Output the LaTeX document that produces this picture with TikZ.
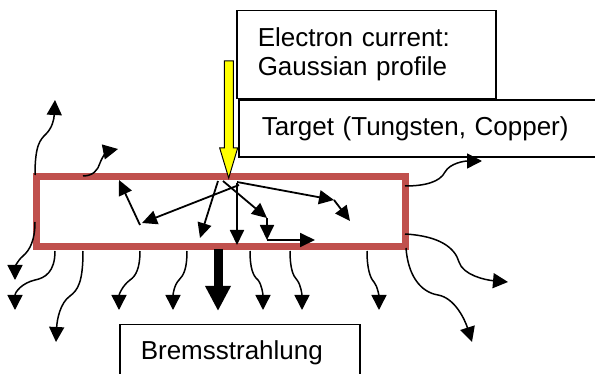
\documentclass[tikz,border=0pt]{standalone}
\usepackage{fontspec}
\setmainfont{Liberation Sans}
\usetikzlibrary{arrows.meta,positioning}
\definecolor{TargetRed}{HTML}{C0504D}
\definecolor{BeamYellow}{HTML}{FFFF00}
\tikzset{
  labelbox/.style={draw=black,fill=white,line width=1.5pt,align=left,inner ysep=0pt,font=\fontsize{26}{29}\selectfont},
  wall/.style={draw=TargetRed,line width=7pt},
  beam/.style={draw=black,fill=BeamYellow,line width=1pt,line join=miter},
  track/.style={-{Triangle[length=15pt,width=14pt]},line width=1.8pt},
  photon/.style={-{Triangle[length=15pt,width=15pt]},line width=1.5pt},
  brems/.style={-{Triangle[length=25pt,width=24pt]},line width=9pt}
}
\begin{document}
\begin{tikzpicture}[x=1pt,y=-1pt]
  \clip (0,0) rectangle (595,374);
  \fill[white] (0,0) rectangle (595,374);

  \node[labelbox,anchor=north west,minimum width=259pt,minimum height=88pt,inner xsep=21pt,text width=217pt] (current) at (236,10) {Electron current:\\Gaussian profile};
  \node[labelbox,below right=0pt and 2pt of current.south west,minimum width=382pt,minimum height=57pt,inner xsep=23pt,text width=336pt] (target) {Target (Tungsten, Copper)};
  \node[labelbox,anchor=north west,minimum width=240pt,minimum height=56pt,inner xsep=21pt,text width=198pt] (brems) at (119,324) {Bremsstrahlung};

  \draw[wall] (36,177) rectangle (405,247);

  % incoming beam
  \coordinate (hit) at (228.7,178);
  \draw[beam] (224.3,61) -- (233.3,61) -- (233.3,148) -- (237.7,148) -- (hit) -- (219.7,148) -- (224.3,148) -- cycle;

  % scattered electrons inside the slab
  \draw[track] (140,225) -- (119,180);
  \draw[track] (239,185) -- (142,223);
  \draw[track] (218,181) -- (200,238);
  \draw[track] (237,183) -- (237,245);
  \coordinate (kinkA) at (267,218);
  \coordinate (kinkB) at (267,240);
  \draw[track] (223,181) -- (kinkA);
  \draw[track] (kinkA) -- (kinkB);
  \draw[track] (kinkB) -- (315,240);
  \coordinate (kinkC) at (334,200);
  \draw[track] (237,182) -- (kinkC);
  \draw[track] (kinkC) -- (350,221);

  % photons leaving the target
  \draw[photon] (35,175) .. controls (35,145) and (40,140) .. (46,134) .. controls (52,128) and (54,120) .. (55,100);
  \draw[photon] (83,176) .. controls (93,176) and (98,170) .. (100,163) .. controls (103,155) and (108,151) .. (118,149);
  \draw[photon] (405,186) .. controls (425,186) and (440,182) .. (445,172) .. controls (450,163) and (465,161) .. (482,161);
  \draw[photon] (405,234) .. controls (440,236) and (455,248) .. (459,262) .. controls (463,275) and (485,280) .. (508,282);
  \draw[photon] (406,248) .. controls (408,275) and (420,292) .. (438,295) .. controls (455,298) and (465,320) .. (472,342);
  \draw[photon] (35,222) .. controls (35,240) and (30,250) .. (23,256) .. controls (17,261) and (15,268) .. (15,280);
  \draw[photon] (55,251) .. controls (55,272) and (45,278) .. (35,280) .. controls (22,283) and (15,292) .. (15,310);
  \draw[photon] (83,251) .. controls (83,282) and (78,290) .. (70,296) .. controls (60,303) and (57,320) .. (56,342);
  \draw[photon] (140,251) .. controls (140,268) and (136,276) .. (130,280) .. controls (122,286) and (119,295) .. (119,310);
  \draw[photon] (187,251) .. controls (187,268) and (184,275) .. (179,280) .. controls (174,285) and (173,295) .. (173,310);
  \draw[photon] (250,251) .. controls (250,268) and (253,276) .. (258,280) .. controls (262,285) and (263,295) .. (263,310);
  \draw[photon] (290,251) .. controls (290,268) and (293,276) .. (297,280) .. controls (301,285) and (302,295) .. (302,310);
  \draw[photon] (367,251) .. controls (367,268) and (370,278) .. (374,282) .. controls (378,287) and (379,297) .. (379,310);
  \draw[brems] (218,249) -- (218,311);
\end{tikzpicture}
\end{document}
